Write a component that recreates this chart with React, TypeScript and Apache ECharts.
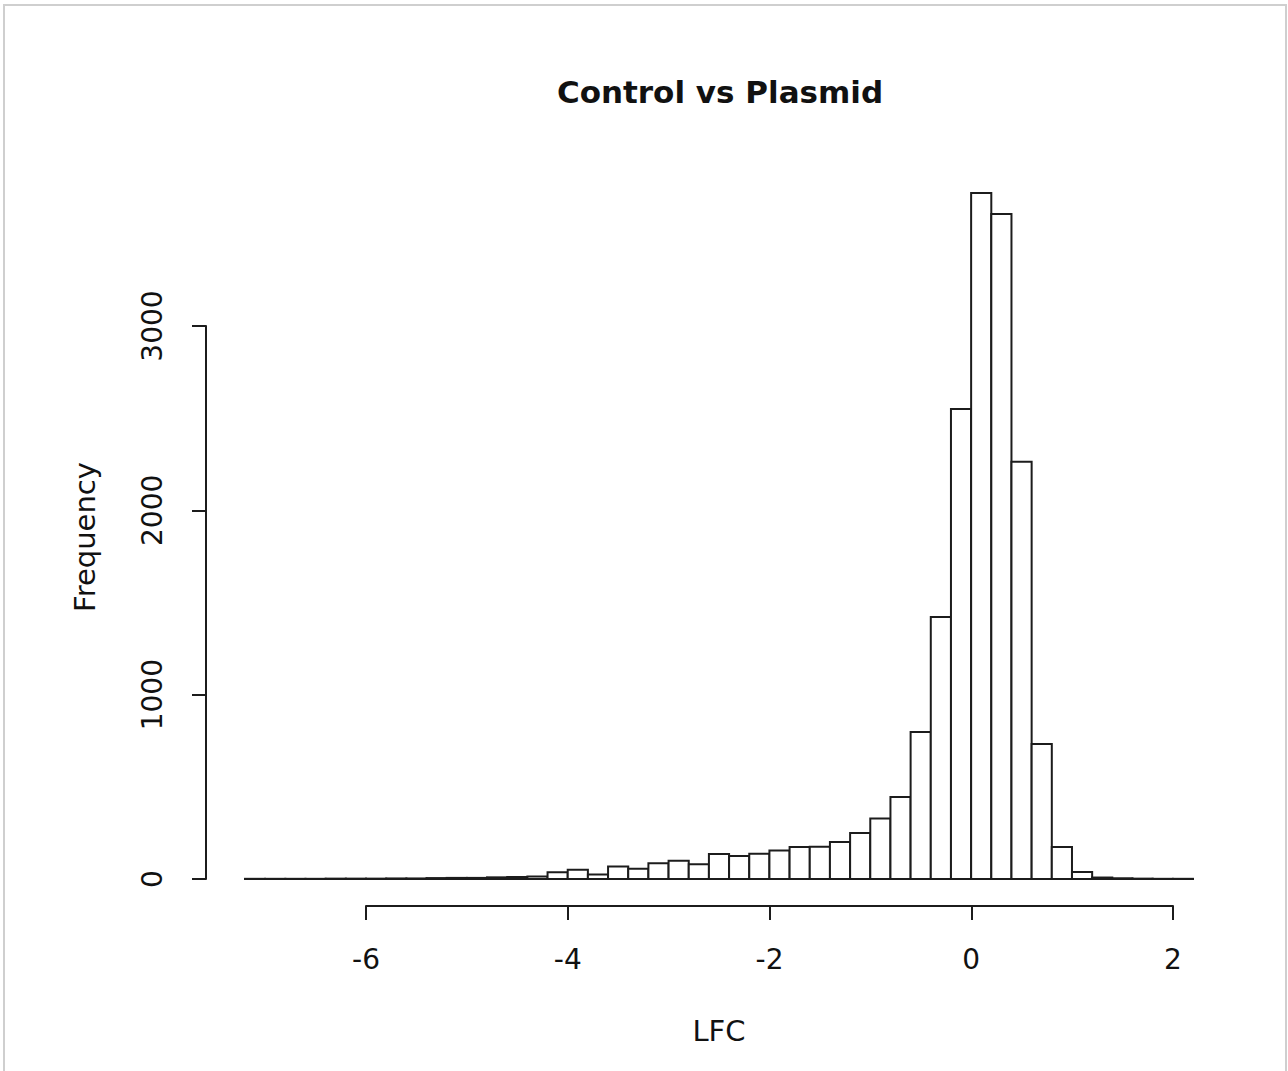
import React, { useEffect, useRef } from "react";
import * as echarts from "echarts";

// Histogram bins (left edges, LFC) and their counts
const binStart = [
  -7.2, -7.0, -6.8, -6.6, -6.4, -6.2, -6.0, -5.8, -5.6, -5.4, -5.2, -5.0,
  -4.8, -4.6, -4.4, -4.2, -4.0, -3.8, -3.6, -3.4, -3.2, -3.0, -2.8, -2.6,
  -2.4, -2.2, -2.0, -1.8, -1.6, -1.4, -1.2, -1.0, -0.8, -0.6, -0.4, -0.2,
  0.0, 0.2, 0.4, 0.6, 0.8, 1.0, 1.2, 1.4, 1.6, 1.8, 2.0,
];
const binWidth = 0.2;
const counts = [
  1, 1, 1, 1, 2, 2, 2, 3, 3, 5, 6, 6,
  9, 11, 14, 36, 50, 24, 68, 55, 85, 99, 80, 136,
  125, 137, 154, 174, 175, 201, 250, 328, 445, 798, 1422, 2550,
  3722, 3608, 2263, 733, 174, 38, 8, 4, 2, 1, 1,
];
const xTicks = { min: -6, max: 2, interval: 2 };
const yTicks = { min: 0, max: 3000, interval: 1000 };

const titleText = "Control vs Plasmid";
const xLabel = "LFC";
const yLabel = "Frequency";

const INK = "#1c1c1c";
const FONT = "DejaVu Sans";

export default function App() {
  const ref = useRef<HTMLDivElement>(null);
  useEffect(() => {
    if (!ref.current) return;
    const chart = echarts.init(ref.current, undefined, { renderer: "svg" });
    const data = binStart.map((s, i) => [s, s + binWidth, counts[i]]);
    chart.setOption({
      animation: false,
      backgroundColor: "#ffffff",
      grid: [
        { left: 245, top: 141.67, width: 948, height: 737.33 },
        { left: 366, top: 880, width: 807, height: 26 },
        { left: 206, top: 326, width: 10, height: 553 },
      ],
      xAxis: [
        { gridIndex: 0, type: "value", min: -7.2, max: 2.2, show: false },
        {
          gridIndex: 1,
          type: "value",
          min: xTicks.min,
          max: xTicks.max,
          interval: xTicks.interval,
          position: "bottom",
          axisLine: { show: true, onZero: false, lineStyle: { color: INK, width: 2 } },
          axisTick: { show: true, length: 14, lineStyle: { color: INK, width: 2 } },
          axisLabel: {
            fontSize: 28,
            fontFamily: FONT,
            color: "#111",
            margin: 39,
            formatter: (v: number) => String(v),
          },
          splitLine: { show: false },
        },
        { gridIndex: 2, type: "value", show: false },
      ],
      yAxis: [
        { gridIndex: 0, type: "value", min: 0, max: 4000, show: false },
        { gridIndex: 1, type: "value", min: 0, max: 1, show: false },
        {
          gridIndex: 2,
          type: "value",
          min: yTicks.min,
          max: yTicks.max,
          interval: yTicks.interval,
          position: "left",
          axisLine: { show: true, onZero: false, lineStyle: { color: INK, width: 2 } },
          axisTick: { show: true, length: 14, lineStyle: { color: INK, width: 2 } },
          axisLabel: {
            fontSize: 28,
            fontFamily: FONT,
            color: "#111",
            margin: 40,
            rotate: 90,
            formatter: (v: number) => String(v),
          },
          splitLine: { show: false },
        },
      ],
      series: [
        {
          type: "custom",
          xAxisIndex: 0,
          yAxisIndex: 0,
          data,
          encode: { x: [0, 1], y: 2 },
          renderItem: (params: any, api: any) => {
            const p0 = api.coord([api.value(0), 0]);
            const p1 = api.coord([api.value(1), api.value(2)]);
            return {
              type: "rect",
              shape: { x: p0[0], y: p1[1], width: p1[0] - p0[0], height: p0[1] - p1[1] },
              style: { fill: "#ffffff", stroke: INK, lineWidth: 2 },
            };
          },
        },
      ],
      graphic: [
        {
          type: "rect",
          shape: { x: 4, y: 5, width: 1282, height: 1080 },
          style: { fill: "none", stroke: "#cfcfcf", lineWidth: 2 },
          silent: true,
        },
        {
          type: "text",
          x: 720,
          y: 92,
          style: {
            text: titleText,
            font: `bold 31px "${FONT}"`,
            fill: "#111",
            align: "center",
            verticalAlign: "middle",
          },
        },
        {
          type: "text",
          x: 719,
          y: 1031,
          style: {
            text: xLabel,
            font: `29px "${FONT}"`,
            fill: "#111",
            align: "center",
            verticalAlign: "middle",
          },
        },
        {
          type: "text",
          x: 85,
          y: 537,
          rotation: Math.PI / 2,
          style: {
            text: yLabel,
            font: `29px "${FONT}"`,
            fill: "#111",
            align: "center",
            verticalAlign: "middle",
          },
        },
      ],
    });
    return () => chart.dispose();
  }, []);
  return (
    <div
      ref={ref}
      style={{ position: "absolute", left: 0, top: 0, width: 1288, height: 1071, background: "#fff" }}
    />
  );
}
